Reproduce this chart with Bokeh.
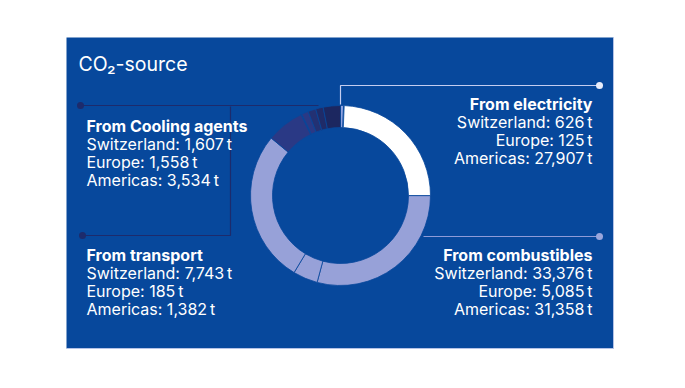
import numpy as np
from bokeh.plotting import figure
from bokeh.models import Range1d, ColumnDataSource
from bokeh.core.properties import value
from bokeh.embed import file_html
from bokeh.resources import INLINE

# ---- data ----
title = "CO\u2082-source"
categories = ["From electricity", "From combustibles", "From transport", "From Cooling agents"]
regions = ["Switzerland", "Europe", "Americas"]
electricity = [626, 125, 27907]
combustibles = [33376, 5085, 31358]
transport = [7743, 185, 1382]
cooling = [1607, 1558, 3534]
unit = "t"

series = [electricity, combustibles, transport, cooling]
slice_colors = [
    ["#8fa2de", "#c3cdf0", "#ffffff"],
    ["#97a1d8", "#97a1d8", "#97a1d8"],
    ["#2a3985", "#25347b", "#2a3985"],
    ["#233173", "#1f2b68", "#1c2760"],
]

PANEL = "#07489c"
FONT = "Inter"

W, H = 669, 372
def Y(py):
    return 388 - py

p = figure(width=W, height=H, x_range=Range1d(0, 669), y_range=Range1d(16, 388),
           output_backend="svg", toolbar_location=None, min_border=0)
p.axis.visible = False
p.grid.visible = False
p.outline_line_color = None
p.background_fill_color = "white"
p.border_fill_color = "white"

# panel
p.quad(left=[66], right=[613], top=[Y(37)], bottom=[Y(348)], fill_color=PANEL, line_color=None)
p.line([613, 613, 66], [Y(37), Y(348), Y(348)], line_color="#b4c2e6", line_width=1)

# donut
vals = np.array([v for s in series for v in s], dtype=float)
cols = [c for cs in slice_colors for c in cs]
frac = vals / vals.sum()
ends = np.cumsum(frac) * 2 * np.pi
starts = ends - frac * 2 * np.pi
cx, cy = 340, Y(195)
src = ColumnDataSource(dict(start=np.pi / 2 - starts, end=np.pi / 2 - ends, color=cols))
p.annular_wedge(x=cx, y=cy, inner_radius=68, outer_radius=90, start_angle="start", end_angle="end",
                direction="clock", fill_color="color", line_color=PANEL, line_width=0.8, source=src)

# connectors
p.line([340, 340, 599], [Y(104), Y(85), Y(85)], line_color="#c4cdf0", line_width=1.2)
p.scatter([599], [Y(85)], size=7, fill_color="#e8ecfa", line_color=None)
p.line([423, 599], [Y(236), Y(236)], line_color="#8e9bd8", line_width=1.2)
p.scatter([599], [Y(236)], size=7, fill_color="#9aa6dc", line_color=None)
p.line([80, 318], [Y(105), Y(105)], line_color="#1d2b6c", line_width=1.2)
p.scatter([80], [Y(105)], size=7, fill_color="#1d2b6c", line_color=None)
p.line([82, 230, 230], [Y(235), Y(235), Y(106)], line_color="#1d2b6c", line_width=1.2)
p.scatter([82], [Y(235)], size=7, fill_color="#1d2b6c", line_color=None)

# title
p.text(x=[78], y=[Y(63)], text=[title], text_color="white", text_font=value(FONT),
       text_font_size="19.5px", text_baseline="middle", text_align="left")

# labels
anchors = [(592, 103, "right"), (592, 254, "right"), (86, 254, "left"), (86, 125, "left")]
pitch = 18.3
for cat, s, (ax, ay, al) in zip(categories, series, anchors):
    p.text(x=[ax], y=[Y(ay)], text=[cat], text_color="white", text_font=value(FONT),
           text_font_size="16px", text_font_style="bold", text_baseline="middle", text_align=al)
    lines = [f"{r}: {v:,}\u2009{unit}" for r, v in zip(regions, s)]
    ys = [Y(ay + pitch * (i + 1)) for i in range(len(lines))]
    p.text(x=[ax] * len(lines), y=ys, text=lines, text_color="white", text_font=value(FONT),
           text_font_size="16px", text_baseline="middle", text_align=al)

open("out.html", "w").write(file_html(p, INLINE))
